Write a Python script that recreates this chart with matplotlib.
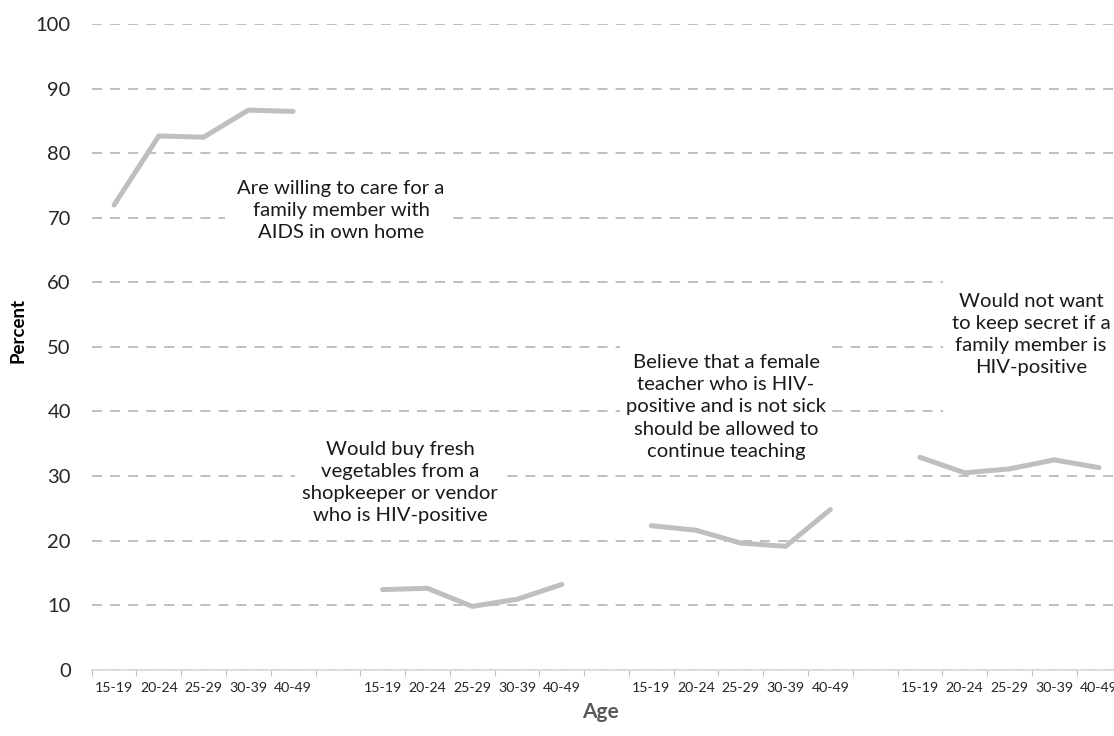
import matplotlib
matplotlib.use("Agg")
import matplotlib.pyplot as plt
from matplotlib.patches import Rectangle

# faixas etarias e valores (percentual) de cada grupo
idades = ["15-19", "20-24", "25-29", "30-39", "40-49"]
cuidar_familiar = [72.0, 82.7, 82.5, 86.7, 86.5]
comprar_vegetais = [12.4, 12.6, 9.8, 10.9, 13.2]
professora = [22.3, 21.6, 19.6, 19.1, 24.8]
nao_segredo = [32.9, 30.5, 31.1, 32.5, 31.3]

textos = [
    "Are willing to care for a\nfamily member with\nAIDS in own home",
    "Would buy fresh\nvegetables from a\nshopkeeper or vendor\nwho is HIV-positive",
    "Believe that a female\nteacher who is HIV-\npositive and is not sick\nshould be allowed to\ncontinue teaching",
    "Would not want\nto keep secret if a\nfamily member is\nHIV-positive",
]

series = [cuidar_familiar, comprar_vegetais, professora, nao_segredo]

# posicao do texto (centro) e caixa branca (x0, x1, y0, y1) em coordenadas dos dados
pos_texto = [(5.07, 71.2), (6.39, 29.0), (13.67, 40.7), (20.48, 51.9)]
caixas = [(2.48, 7.55, 63.5, 78.2), (4.04, 8.73, 20.9, 37.9),
          (11.3, 16.04, 30.9, 51.9), (18.52, 22.6, 37.9, 61.6)]

plt.rcParams["font.family"] = ["Lato", "DejaVu Sans"]
plt.rcParams["lines.scale_dashes"] = False

fig = plt.figure(figsize=(11.14, 7.36), dpi=100)
ax = fig.add_axes([0.0823, 0.0902, 0.9243, 0.8768])

cor_linha = "#BFBFBF"
passo = len(idades) + 1  # um espaco vazio entre os grupos

for g in range(len(series)):
    xs = [g * passo + i for i in range(len(idades))]
    ax.plot(xs, series[g], color=cor_linha, linewidth=3.6,
            solid_capstyle="round", solid_joinstyle="round", zorder=4)

for g in range(len(textos)):
    x0, x1, y0, y1 = caixas[g]
    ax.add_patch(Rectangle((x0, y0), x1 - x0, y1 - y0, facecolor="white",
                           edgecolor="none", zorder=2))
    ax.text(pos_texto[g][0], pos_texto[g][1], textos[g], ha="center", va="center",
            fontsize=14.6, color="#1a1a1a", linespacing=1.36, zorder=3)

n_cat = passo * len(series) - 1
ax.set_xlim(-0.5, n_cat - 0.5)
ax.set_ylim(0, 100)

# rotulos do eixo x (vazio nos espacos entre grupos)
rotulos = []
for g in range(len(series)):
    rotulos = rotulos + idades
    if g < len(series) - 1:
        rotulos.append("")
ax.set_xticks(range(n_cat))
ax.set_xticklabels(rotulos, fontsize=10.2, color="#262626")
ax.set_xticks([k - 0.5 for k in range(n_cat + 1)], minor=True)
ax.tick_params(axis="x", which="major", length=0, pad=9)
ax.tick_params(axis="x", which="minor", length=4, width=0.8, color="#BFBFBF")

ax.set_yticks(range(0, 101, 10))
ax.tick_params(axis="y", length=0, pad=15, labelsize=14.5, labelcolor="#262626")

ax.grid(axis="y", color=cor_linha, linewidth=1.4, linestyle=(0, (7.2, 5.8)))
ax.set_axisbelow(True)

for lado in ["top", "right", "left"]:
    ax.spines[lado].set_visible(False)
ax.spines["bottom"].set_color("#D9D9D9")
ax.spines["bottom"].set_linewidth(1.2)

ax.set_ylabel("Percent", fontsize=13.5, fontweight="bold", color="black")
ax.yaxis.set_label_coords(-0.063, 0.526)
ax.set_xlabel("Age", fontsize=15, fontweight="bold", color="#595959")
ax.xaxis.set_label_coords(0.494, -0.05)

fig.savefig("out.png", dpi=100)
